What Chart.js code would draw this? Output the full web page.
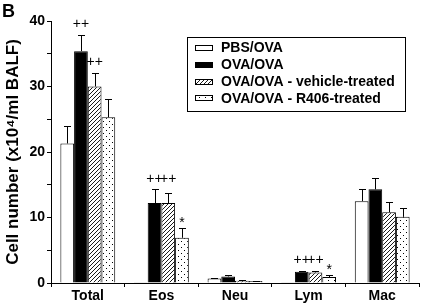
<!DOCTYPE html>
<html><head><meta charset="utf-8">
<script src="https://cdn.jsdelivr.net/npm/chart.js@4"></script>
<style>html,body{margin:0;padding:0;background:#fff}#wrap{position:relative;width:422px;height:306px}</style>
</head><body><div id="wrap"><canvas id="c" width="422" height="306"></canvas></div>
<script>
const categories = ['Total','Eos','Neu','Lym','Mac'];
const seriesNames = ['PBS/OVA','OVA/OVA','OVA/OVA - vehicle-treated','OVA/OVA - R406-treated'];
const pbsOva = [21.3, 0.1, 0.7, 0.05, 12.5];
const ovaOva = [35.4, 12.2, 1.0, 1.7, 14.3];
const vehicle = [30.0, 12.2, 0.35, 1.6, 10.8];
const r406 = [25.3, 6.9, 0.3, 0.9, 10.1];
const pbsOvaErr = [24.0, null, 0.8, null, 14.4];
const ovaOvaErr = [37.9, 14.3, 1.2, 1.9, 16.0];
const vehicleErr = [32.1, 13.8, 0.45, 1.8, 12.3];
const r406Err = [28.1, 8.4, 0.35, 1.2, 11.5];
const yTicks = [0, 10, 20, 30, 40];
// annotations: [series index, category index, text, series whose error bar it sits above]
const marks = [[1,0,'++',1],[2,0,'++',2],[1,1,'++',1],[2,1,'++',1],[3,1,'*',3],[1,3,'++',1],[2,3,'++',1],[3,3,'*',3]];

const FONT='"Liberation Sans", Arial, sans-serif';
function hatchPattern(){
  const c=document.createElement('canvas');c.width=4;c.height=4;
  const x=c.getContext('2d');x.fillStyle='#fff';x.fillRect(0,0,4,4);
  x.strokeStyle='#000';x.lineWidth=0.9;
  x.beginPath();x.moveTo(-1,5);x.lineTo(5,-1);x.moveTo(-1,1);x.lineTo(1,-1);x.moveTo(3,5);x.lineTo(5,3);x.stroke();
  return x.createPattern(c,'repeat');
}
function dotPattern(){
  const c=document.createElement('canvas');c.width=6;c.height=6;
  const x=c.getContext('2d');x.fillStyle='#fff';x.fillRect(0,0,6,6);
  x.fillStyle='#000';x.fillRect(1,1,1,1);x.fillRect(4,4,1,1);
  return x.createPattern(c,'repeat');
}
const fills=['#ffffff','#000000',hatchPattern(),dotPattern()];
const values=[pbsOva,ovaOva,vehicle,r406];
const errs=[pbsOvaErr,ovaOvaErr,vehicleErr,r406Err];

const errPlugin={id:'errs',afterDatasetsDraw(chart){
  const ctx=chart.ctx,y=chart.scales.y;
  ctx.save();ctx.strokeStyle='#000';ctx.lineWidth=1;
  chart.data.datasets.forEach((ds,i)=>{
    const meta=chart.getDatasetMeta(i);
    meta.data.forEach((bar,j)=>{
      const e=errs[i][j]; if(e==null) return;
      const x=Math.round(bar.x)+0.5, y0=y.getPixelForValue(ds.data[j]), y1=Math.round(y.getPixelForValue(e))+0.5;
      ctx.beginPath();ctx.moveTo(x,y0);ctx.lineTo(x,y1);ctx.moveTo(x-3.5,y1);ctx.lineTo(x+3.5,y1);ctx.stroke();
    });
  });
  ctx.fillStyle='#000';ctx.font='14px '+FONT;ctx.textAlign='center';ctx.textBaseline='alphabetic';
  marks.forEach(([s,c,t,a])=>{
    const bar=chart.getDatasetMeta(s).data[c];
    const top=errs[a][c]!=null?errs[a][c]:values[a][c];
    const py=y.getPixelForValue(top);
    if(t==='*') ctx.fillText(t,bar.x,py-9+8);
    else ctx.fillText(t,bar.x,py-11+4.6);
  });
  // legend
  const bx=187.5,by=37.5,bw=218,bh=74;
  ctx.fillStyle='#fff';ctx.fillRect(bx,by,bw,bh);
  ctx.strokeStyle='#000';ctx.lineWidth=1;ctx.strokeRect(bx,by,bw,bh);
  ctx.font='bold 14px '+FONT;ctx.textAlign='left';ctx.textBaseline='middle';
  seriesNames.forEach((n,i)=>{
    const cy=48+i*16.8;
    ctx.fillStyle=fills[i];ctx.fillRect(195,Math.round(cy-3),18,6);
    ctx.strokeStyle='#000';ctx.strokeRect(195.5,Math.round(cy-3)+0.5,17,5);
    ctx.fillStyle='#000';ctx.fillText(n,221,cy+0.5);
  });
  ctx.font='bold 18px '+FONT;ctx.textBaseline='alphabetic';ctx.fillText('B',2,17);
  ctx.restore();
}};

new Chart(document.getElementById('c'),{
  type:'bar',
  data:{labels:categories,datasets:values.map((v,i)=>({label:seriesNames[i],data:v,backgroundColor:fills[i],borderColor:'#000',borderWidth:1,borderSkipped:'bottom',barPercentage:1,categoryPercentage:0.745}))},
  options:{responsive:false,animation:false,devicePixelRatio:1,
    layout:{padding:{top:21,right:3,left:0,bottom:0}},
    plugins:{legend:{display:false},tooltip:{enabled:false}},
    scales:{
      x:{grid:{display:true,offset:true,drawOnChartArea:false,tickLength:4,color:'#000'},border:{color:'#000',width:1},
        ticks:{color:'#000',font:{family:FONT,size:14,weight:'bold'},padding:1},
        afterFit(s){s.height=23;}},
      y:{min:0,max:40,grid:{drawOnChartArea:false,tickLength:4,color:'#000'},border:{color:'#000',width:1},
        ticks:{stepSize:5,color:'#000',padding:2,font:{family:FONT,size:14,weight:'bold'},
          callback:(v)=>yTicks.includes(v)?String(v):''},
        title:{display:true,text:'Cell number (x10⁴/ml BALF)',color:'#000',font:{family:FONT,size:17,weight:'bold'},padding:{top:3,bottom:0}},
        afterFit(s){s.width=51;}}
    }},
  plugins:[errPlugin]
});
</script></body></html>
